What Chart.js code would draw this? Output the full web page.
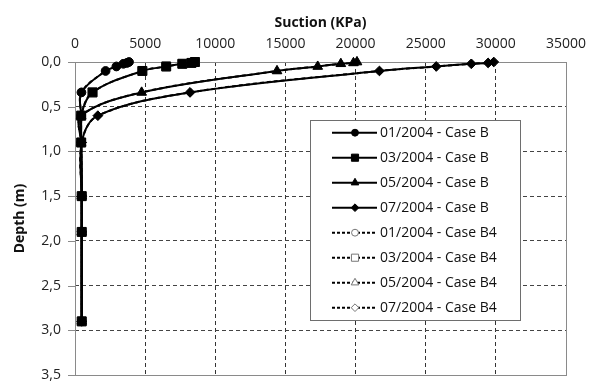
<!DOCTYPE html>
<html><head><meta charset="utf-8">
<script src="https://cdn.jsdelivr.net/npm/chart.js@4/dist/chart.umd.min.js"></script>
<style>html,body{margin:0;padding:0;background:#fff}</style>
</head><body>
<canvas id="c" width="600" height="383"></canvas>
<script>
// ---- data ----
const depth = [0.00, 0.01, 0.02, 0.05, 0.10, 0.34, 0.60, 0.90, 1.50, 1.90, 2.90];
const suction01B = [3850, 3700, 3450, 2950, 2180, 460, 440, 440, 480, 480, 480];
const suction03B = [8550, 8300, 7650, 6500, 4800, 1250, 440, 440, 480, 480, 480];
const suction05B = [20100, 19850, 18950, 17300, 14400, 4750, 440, 440, 480, 480, 480];
const suction07B = [29850, 29450, 28250, 25750, 21700, 8200, 1630, 480, 480, 480, 480];
const suction01B4 = [3850, 3700, 3450, 2950, 2180, 460, 440, 440, 480, 480, 480];
const suction03B4 = [8550, 8300, 7650, 6500, 4800, 1250, 440, 440, 480, 480, 480];
const suction05B4 = [20100, 19850, 18950, 17300, 14400, 4750, 440, 440, 480, 480, 480];
const suction07B4 = [29850, 29450, 28250, 25750, 21700, 8200, 1630, 480, 480, 480, 480];
const seriesLabels = ['01/2004 - Case B','03/2004 - Case B','05/2004 - Case B','07/2004 - Case B',
                      '01/2004 - Case B4','03/2004 - Case B4','05/2004 - Case B4','07/2004 - Case B4'];
const xTicks = [0, 5000, 10000, 15000, 20000, 25000, 30000, 35000];
const yTicks = [0, 0.5, 1.0, 1.5, 2.0, 2.5, 3.0, 3.5];
const xTitle = 'Suction (KPa)';
const yTitle = 'Depth (m)';

// ---- build ----
const seriesValues = [suction01B, suction03B, suction05B, suction07B, suction01B4, suction03B4, suction05B4, suction07B4];
const styles = ['circle','rect','triangle','rectRot','circle','rect','triangle','rectRot'];
const radii = [4.3, 6.3, 5.5, 4.8, 4.3, 6.3, 5.5, 4.8];
const FONT = 'Open Sans';

const datasets = seriesValues.map((vals, i) => {
  const solid = i < 4;
  return {
    label: seriesLabels[i],
    data: vals.map((v, k) => ({x: v, y: depth[k]})),
    showLine: true,
    tension: 0.35,
    borderColor: '#000',
    borderWidth: 2,
    borderDash: solid ? [] : [4, 3],
    pointStyle: styles[i],
    pointRadius: radii[i],
    pointBackgroundColor: solid ? '#000' : '#fff',
    pointBorderColor: solid ? '#000' : '#777',
    pointBorderWidth: 1,
    clip: false
  };
});

const framePlugin = {
  id: 'frame',
  beforeDatasetsDraw(chart) {
    const {ctx, chartArea: a, scales} = chart;
    ctx.save();
    ctx.strokeStyle = '#8a8a8a';
    ctx.lineWidth = 1;
    ctx.setLineDash([]);
    ctx.strokeRect(Math.round(a.left) + 0.5, Math.round(a.top) + 0.5,
                   Math.round(a.right - a.left), Math.round(a.bottom - a.top));
    yTicks.forEach(t => {
      const y = Math.round(scales.y.getPixelForValue(t)) + 0.5;
      ctx.beginPath();
      ctx.moveTo(a.left - 7, y); ctx.lineTo(a.left, y); ctx.stroke();
    });
    ctx.restore();
  },
  afterDraw(chart) {
    const {ctx} = chart;
    const bx = 310.5, by = 120.5, bw = 210, bh = 200;
    ctx.save();
    ctx.fillStyle = '#fff';
    ctx.fillRect(bx, by, bw, bh);
    ctx.strokeStyle = '#6e6e6e';
    ctx.lineWidth = 1;
    ctx.setLineDash([]);
    ctx.strokeRect(bx, by, bw, bh);
    ctx.font = '14px "' + FONT + '"';
    ctx.textBaseline = 'middle';
    ctx.textAlign = 'left';
    chart.data.datasets.forEach((ds, i) => {
      const y = 132.7 + i * 25;
      ctx.strokeStyle = '#000';
      ctx.lineWidth = 2;
      ctx.setLineDash(i < 4 ? [] : [3, 2]);
      ctx.beginPath(); ctx.moveTo(332, y); ctx.lineTo(377, y); ctx.stroke();
      ctx.setLineDash([]);
      ctx.fillStyle = ds.pointBackgroundColor;
      ctx.strokeStyle = ds.pointBorderColor;
      ctx.lineWidth = 1;
      Chart.helpers.drawPoint(ctx, {pointStyle: ds.pointStyle, radius: ds.pointRadius * 0.8, rotation: 0, borderWidth: 1}, 355, y);
      ctx.fillStyle = '#111';
      ctx.fillText(ds.label, 380, y + 0.5);
    });
    ctx.restore();
  }
};

new Chart(document.getElementById('c'), {
  type: 'scatter',
  data: {datasets},
  options: {
    responsive: false,
    devicePixelRatio: 1,
    animation: false,
    layout: {padding: {left: 0, right: 34, top: 0, bottom: 8}},
    plugins: {legend: {display: false}, tooltip: {enabled: false}},
    scales: {
      x: {
        type: 'linear', position: 'top', min: 0, max: 35000,
        afterBuildTicks: s => { s.ticks = xTicks.map(v => ({value: v})); },
        afterFit: s => { s.height = 62; s.paddingLeft = 0; s.paddingRight = 0; },
        ticks: {callback: v => String(v), font: {family: FONT, size: 14}, color: '#222', padding: 10, maxRotation: 0},
        grid: {color: '#333', lineWidth: 1, drawTicks: false},
        border: {display: false, dash: [4, 3]},
        title: {display: true, text: xTitle, font: {family: FONT, size: 14, weight: 'bold'}, color: '#111', padding: {top: 15, bottom: 0}}
      },
      y: {
        type: 'linear', min: 0, max: 3.5, reverse: true,
        afterBuildTicks: s => { s.ticks = yTicks.map(v => ({value: v})); },
        afterFit: s => { s.width = 75; s.paddingTop = 0; s.paddingBottom = 0; },
        ticks: {callback: v => Number(v).toFixed(1).replace('.', ','), font: {family: FONT, size: 14}, color: '#222', padding: 14},
        grid: {color: '#444', lineWidth: 1, drawTicks: false},
        border: {display: false, dash: [4, 3]},
        title: {display: true, text: yTitle, font: {family: FONT, size: 14, weight: 'bold'}, color: '#111', padding: {top: 12, bottom: 0}}
      }
    }
  },
  plugins: [framePlugin]
});
</script>
</body></html>
